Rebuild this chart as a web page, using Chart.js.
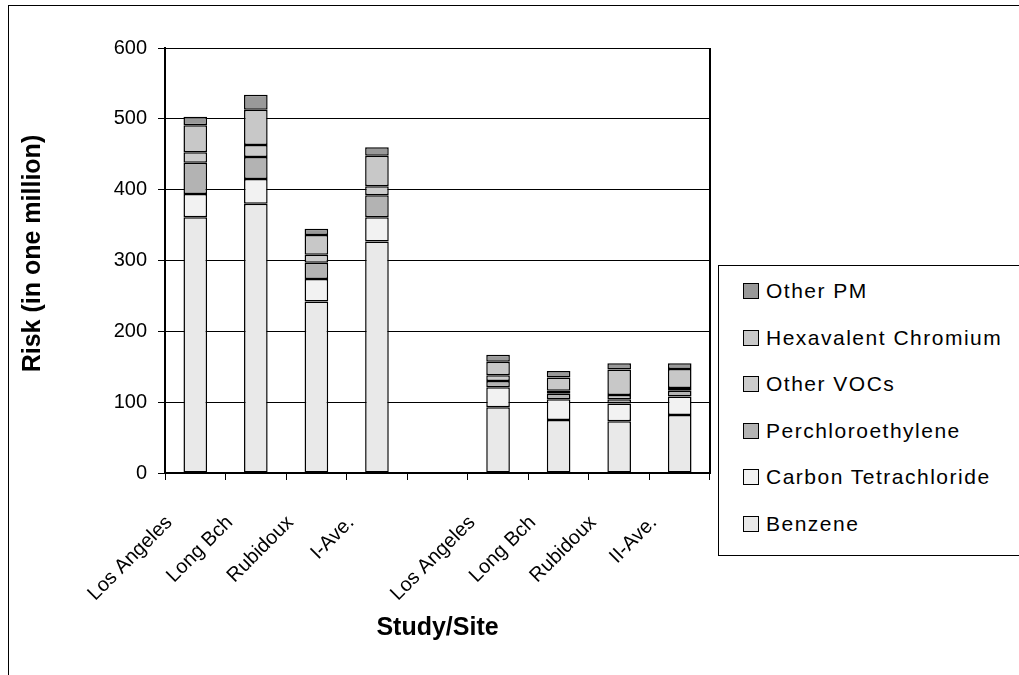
<!DOCTYPE html>
<html>
<head>
<meta charset="utf-8">
<script src="https://cdn.jsdelivr.net/npm/chart.js@4/dist/chart.umd.min.js"></script>
<style>
  html, body { margin: 0; padding: 0; background: #fff; overflow: hidden; }
  #frame { position: absolute; left: 8px; top: 5px; width: 1100px; height: 700px; border: 1px solid #000; }
  #wrap { position: absolute; left: 0; top: 0; width: 1019px; height: 675px; }
  #legend { position: absolute; left: 718px; top: 265px; width: 340px; height: 289px; border: 1px solid #000; background: #fff; font-family: "Liberation Sans", Arial, sans-serif; }
  .item { position: absolute; left: 24px; height: 24px; line-height: 24px; font-size: 21px; letter-spacing: 1.5px; color: #000; white-space: nowrap; }
  .box { display: inline-block; width: 14px; height: 14px; border: 1px solid #000; vertical-align: -1px; margin-right: 7px; }
</style>
</head>
<body>
<div id="frame"></div>
<div id="wrap"><canvas id="riskChart" width="1019" height="675"></canvas></div>
<div id="legend"></div>
<script>
const sites = ['Los Angeles', 'Long Bch', 'Rubidoux', 'I-Ave.', '', 'Los Angeles', 'Long Bch', 'Rubidoux', 'II-Ave.'];

const benzene = [361, 380, 242, 327, null, 93, 75, 73, 82];
const carbonTet = [33, 35, 32, 34, null, 28, 29, 25, 26];
const perchloro = [44, 31, 23, 31, null, 9, 8, 6, 8];
const otherVOCs = [15, 17, 11, 13, null, 8, 4, 6, 4];
const hexChromium = [38, 50, 28, 43, null, 19, 19, 36, 27];
const otherPM = [12, 21, 9, 12, null, 10, 9, 9, 8];

const yTicks = [0, 100, 200, 300, 400, 500, 600];

function makeSeries(label, data, color) {
    return {
        label: label,
        data: data,
        backgroundColor: color,
        borderColor: '#000',
        borderWidth: 1.5,
        borderSkipped: false,
        barPercentage: 0.39,
        categoryPercentage: 1
    };
}

const datasets = [
    makeSeries('Benzene', benzene, '#e9e9e9'),
    makeSeries('Carbon Tetrachloride', carbonTet, '#f2f2f2'),
    makeSeries('Perchloroethylene', perchloro, '#b3b3b3'),
    makeSeries('Other VOCs', otherVOCs, '#cccccc'),
    makeSeries('Hexavalent Chromium', hexChromium, '#c8c8c8'),
    makeSeries('Other PM', otherPM, '#999999')
];

// right edge of the plot area
const plotBorder = {
    id: 'plotBorder',
    afterDraw(chart) {
        const a = chart.chartArea;
        const ctx = chart.ctx;
        ctx.save();
        ctx.strokeStyle = '#000';
        ctx.lineWidth = 2;
        ctx.beginPath();
        ctx.moveTo(a.right, a.top);
        ctx.lineTo(a.right, a.bottom + 1);
        ctx.stroke();
        ctx.restore();
    }
};

const tickFont = { family: '"Liberation Sans", Arial, sans-serif', size: 20 };
const titleFont = { family: '"Liberation Sans", Arial, sans-serif', size: 25, weight: 'bold' };

var ctx = document.getElementById('riskChart').getContext('2d');
var chart = new Chart(ctx, {
    type: 'bar',
    data: { labels: sites, datasets: datasets },
    options: {
        responsive: false,
        animation: false,
        layout: { padding: { left: 0, top: 48, right: 309, bottom: 0 } },
        plugins: { legend: { display: false }, tooltip: { enabled: false } },
        scales: {
            x: {
                stacked: true,
                afterFit: function(scale) { scale.height = 202; },
                grid: { offset: true, drawOnChartArea: false, color: '#000', tickLength: 7 },
                border: { color: '#000', width: 2 },
                ticks: {
                    color: '#000', font: tickFont, autoSkip: false,
                    minRotation: 45, maxRotation: 45, padding: 31, labelOffset: -26
                },
                title: { display: true, text: 'Study/Site', color: '#000', font: titleFont, padding: { top: 0, bottom: 32 } }
            },
            y: {
                stacked: true,
                min: 0,
                max: 600,
                afterFit: function(scale) { scale.width = 165; },
                afterBuildTicks: function(scale) { scale.ticks = yTicks.map(v => ({ value: v })); },
                grid: { color: '#000', lineWidth: 1, tickLength: 7 },
                border: { color: '#000', width: 2 },
                ticks: { color: '#000', font: tickFont, padding: 11 },
                // leading spaces nudge the title up a little, as in the original
                title: { display: true, text: '\u00a0\u00a0Risk (in one million)', color: '#000', font: titleFont, padding: { top: 18, bottom: 0 } }
            }
        }
    },
    plugins: [plotBorder]
});

// legend, top entry is the last series like the original
var legend = document.getElementById('legend');
datasets.slice().reverse().forEach(function(ds, i) {
    var row = document.createElement('div');
    row.className = 'item';
    row.style.top = (13 + i * 46.6) + 'px';
    row.innerHTML = '<span class="box" style="background:' + ds.backgroundColor + '"></span>' + ds.label;
    legend.appendChild(row);
});
</script>
</body>
</html>
